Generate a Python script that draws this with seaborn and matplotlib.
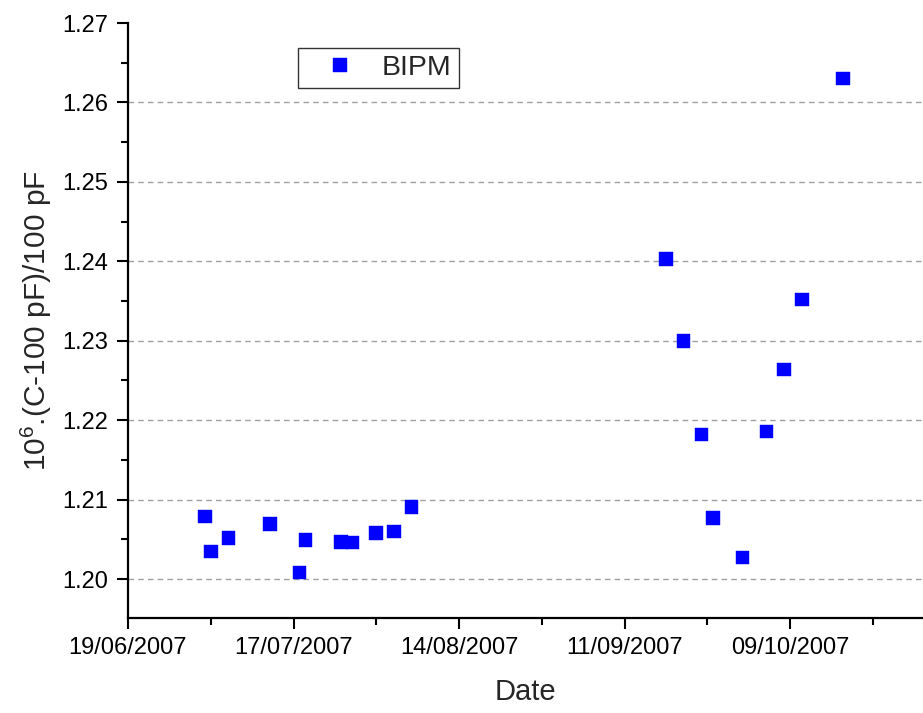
import matplotlib
matplotlib.use("Agg")
import matplotlib.pyplot as plt
import matplotlib.dates as mdates
from matplotlib.ticker import MultipleLocator, FixedLocator
import seaborn as sns
import pandas as pd

# data
dates = ["2007-07-02", "2007-07-03", "2007-07-06", "2007-07-13", "2007-07-18",
         "2007-07-19", "2007-07-25", "2007-07-27", "2007-07-31", "2007-08-03",
         "2007-08-06", "2007-09-18", "2007-09-21", "2007-09-24", "2007-09-26",
         "2007-10-01", "2007-10-05", "2007-10-08", "2007-10-11", "2007-10-18"]
values = [1.2079, 1.2035, 1.2052, 1.2069, 1.2008,
          1.2049, 1.2047, 1.2046, 1.2058, 1.2060,
          1.2091, 1.2403, 1.2300, 1.2182, 1.2077,
          1.2027, 1.2186, 1.2264, 1.2352, 1.2630]
series_name = "BIPM"

x_ticks = ["2007-06-19", "2007-07-17", "2007-08-14", "2007-09-11", "2007-10-09"]
x_minor = ["2007-07-03", "2007-07-31", "2007-08-28", "2007-09-25", "2007-10-23"]
x_range = ["2007-06-19", "2007-10-31 12:00"]
y_ticks = [1.20, 1.21, 1.22, 1.23, 1.24, 1.25, 1.26, 1.27]
y_range = [1.1951, 1.27]

df = pd.DataFrame({"Date": pd.to_datetime(dates), "value": values,
                   "series": series_name})

sns.set_style("ticks")
plt.rcParams["font.family"] = ["Liberation Sans", "DejaVu Sans"]
plt.rcParams["mathtext.default"] = "regular"

fig = plt.figure(figsize=(9.23, 7.13), dpi=100)
ax = fig.add_axes([128 / 923, 1 - 618 / 713, 1 - 128 / 923, (618 - 23) / 713])

sns.scatterplot(data=df, x="Date", y="value", hue="series", palette=["#0000ff"],
                marker="s", s=95, edgecolor="#0000ff", linewidth=0.3, ax=ax)

# axes range and ticks
ax.set_xlim(pd.to_datetime(x_range[0]), pd.to_datetime(x_range[1]))
ax.set_ylim(*y_range)
ax.xaxis.set_major_locator(FixedLocator(mdates.date2num(pd.to_datetime(x_ticks))))
ax.xaxis.set_minor_locator(FixedLocator(mdates.date2num(pd.to_datetime(x_minor))))
ax.xaxis.set_major_formatter(mdates.DateFormatter("%d/%m/%Y"))
ax.set_yticks(y_ticks)
ax.set_yticklabels([f"{v:.2f}" for v in y_ticks])
ax.yaxis.set_minor_locator(MultipleLocator(0.005))

ax.tick_params(axis="both", which="major", direction="out", length=8, width=1.5,
               color="black", labelcolor="black")
ax.tick_params(axis="x", which="major", pad=6, labelsize=17)
ax.tick_params(axis="y", which="major", pad=6, labelsize=17)
ax.tick_params(axis="both", which="minor", direction="out", length=5, width=1.5,
               color="black")

for side in ["top", "right"]:
    ax.spines[side].set_visible(False)
for side in ["left", "bottom"]:
    ax.spines[side].set_linewidth(1.6)
    ax.spines[side].set_color("black")

# dashed horizontal grid, none on the top edge
ax.yaxis.grid(True, linestyle=(0, (4, 3)), color="#a0a0a0", linewidth=1.0)
ax.xaxis.grid(False)
ax.get_ygridlines()[-1].set_visible(False)

ax.set_xlabel("Date", fontsize=21, labelpad=13)
ax.set_ylabel("$10^6$.(C-100 pF)/100 pF", fontsize=21.5, labelpad=6)

leg = ax.legend(loc="upper left", bbox_to_anchor=(298 / 923, 1 - 48 / 713),
                bbox_transform=fig.transFigure, fontsize=20.5, frameon=True,
                fancybox=False, borderpad=0.25, handletextpad=0.25,
                borderaxespad=0, markerscale=1.0, handlelength=2.45)
leg.get_frame().set_edgecolor("black")
leg.get_frame().set_linewidth(1.0)
leg.set_title(None)

fig.savefig("out.png", dpi=100)
